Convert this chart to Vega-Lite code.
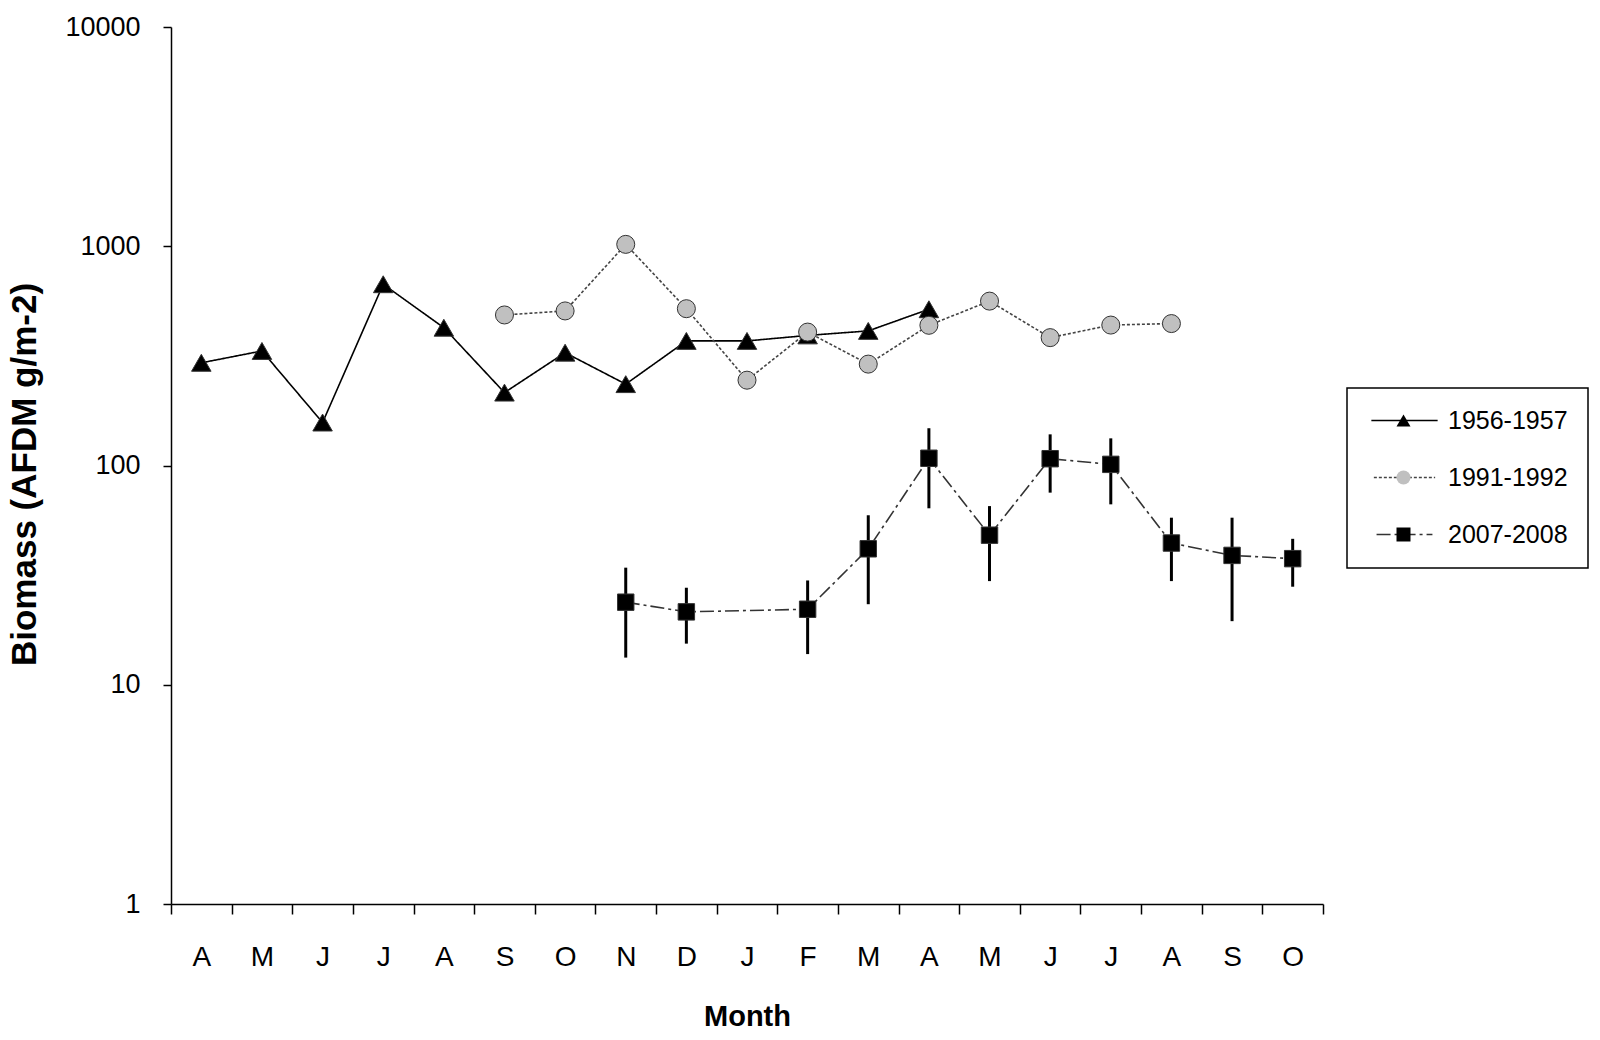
{
  "$schema": "https://vega.github.io/schema/vega-lite/v6.json",
  "autosize": {"type": "none"},
  "width": 1152,
  "height": 877,
  "padding": {"left": 171, "top": 27, "right": 277, "bottom": 136},
  "background": "white",
  "config": {
    "view": {"stroke": null},
    "font": "Liberation Sans",
    "legend": {"strokeWidth": 1.5},
    "axis": {
      "domainColor": "black", "domainWidth": 1.5, "tickColor": "black", "tickWidth": 1.5,
      "labelColor": "black", "titleColor": "black", "grid": false,
      "labelFont": "Liberation Sans", "titleFont": "Liberation Sans"
    }
  },
  "data": {
    "values": [
      {"series": "1956-1957", "idx": 0, "value": 294},
      {"series": "1956-1957", "idx": 1, "value": 333},
      {"series": "1956-1957", "idx": 2, "value": 157},
      {"series": "1956-1957", "idx": 3, "value": 671},
      {"series": "1956-1957", "idx": 4, "value": 425},
      {"series": "1956-1957", "idx": 5, "value": 215},
      {"series": "1956-1957", "idx": 6, "value": 327},
      {"series": "1956-1957", "idx": 7, "value": 235},
      {"series": "1956-1957", "idx": 8, "value": 370},
      {"series": "1956-1957", "idx": 9, "value": 370},
      {"series": "1956-1957", "idx": 10, "value": 392},
      {"series": "1956-1957", "idx": 11, "value": 411},
      {"series": "1956-1957", "idx": 12, "value": 516},
      {"series": "1991-1992", "idx": 5, "value": 486},
      {"series": "1991-1992", "idx": 6, "value": 507},
      {"series": "1991-1992", "idx": 7, "value": 1020},
      {"series": "1991-1992", "idx": 8, "value": 519},
      {"series": "1991-1992", "idx": 9, "value": 245},
      {"series": "1991-1992", "idx": 10, "value": 406},
      {"series": "1991-1992", "idx": 11, "value": 290},
      {"series": "1991-1992", "idx": 12, "value": 436},
      {"series": "1991-1992", "idx": 13, "value": 562},
      {"series": "1991-1992", "idx": 14, "value": 383},
      {"series": "1991-1992", "idx": 15, "value": 437},
      {"series": "1991-1992", "idx": 16, "value": 444},
      {"series": "2007-2008", "idx": 7, "value": 23.8, "lo": 13.3, "hi": 34.2},
      {"series": "2007-2008", "idx": 8, "value": 21.5, "lo": 15.4, "hi": 27.7},
      {"series": "2007-2008", "idx": 10, "value": 22.1, "lo": 13.8, "hi": 29.9},
      {"series": "2007-2008", "idx": 11, "value": 41.7, "lo": 23.3, "hi": 59.3},
      {"series": "2007-2008", "idx": 12, "value": 107.9, "lo": 63.8, "hi": 147.9},
      {"series": "2007-2008", "idx": 13, "value": 48.1, "lo": 29.7, "hi": 65.3},
      {"series": "2007-2008", "idx": 14, "value": 107.4, "lo": 75.2, "hi": 138.7},
      {"series": "2007-2008", "idx": 15, "value": 101.2, "lo": 66.5, "hi": 133},
      {"series": "2007-2008", "idx": 16, "value": 44.3, "lo": 29.7, "hi": 57.8},
      {"series": "2007-2008", "idx": 17, "value": 38.9, "lo": 19.5, "hi": 57.8},
      {"series": "2007-2008", "idx": 18, "value": 37.6, "lo": 28, "hi": 46.3}
    ]
  },
  "encoding": {
    "x": {
      "field": "idx", "type": "ordinal", "bandPosition": 0.5,
      "scale": {"type": "band", "domain": [0,1,2,3,4,5,6,7,8,9,10,11,12,13,14,15,16,17,18], "paddingInner": 0, "paddingOuter": 0},
      "axis": {
        "title": "Month", "titleFontSize": 29, "titleFontWeight": "bold", "titlePadding": 31,
        "labelAngle": 0, "labelFontSize": 28, "labelPadding": 29, "tickSize": 10, "tickBand": "extent",
        "labelExpr": "['A','M','J','J','A','S','O','N','D','J','F','M','A','M','J','J','A','S','O'][datum.value]"
      }
    },
    "y": {
      "field": "value", "type": "quantitative",
      "scale": {"type": "log", "domain": [1, 10000], "nice": false},
      "axis": {
        "title": "Biomass (AFDM g/m-2)", "titleFontSize": 35, "titleFontWeight": "bold", "titlePadding": 22, "titleY": 447,
        "values": [1, 10, 100, 1000, 10000], "format": "d",
        "labelFontSize": 27, "labelPadding": 23, "tickSize": 8
      }
    }
  },
  "layer": [
    {
      "mark": {"type": "line", "strokeWidth": 1.6},
      "encoding": {
        "strokeDash": {"field": "series", "type": "nominal",
          "scale": {"domain": ["2007-2008", "1991-1992", "1956-1957"], "range": [[14, 4, 3, 4], [3, 2], [1, 0]]},
          "legend": {
            "title": null, "orient": "none", "legendX": 1176, "legendY": 361,
            "values": ["1956-1957", "1991-1992", "2007-2008"],
            "padding": 20, "symbolType": "M-3.4,0H3.4", "symbolSize": 400, "symbolStrokeWidth": 1.6,
            "symbolOffset": 25, "labelOffset": 32, "rowPadding": 31,
            "labelFontSize": 25, "labelFont": "Liberation Sans", "labelExpr": "''"
          }
        },
        "stroke": {"field": "series", "type": "nominal",
          "scale": {"domain": ["2007-2008", "1991-1992", "1956-1957"], "range": ["#333333", "#444444", "#000000"]}}
      }
    },
    {
      "transform": [{"filter": "isValid(datum.lo)"}],
      "mark": {"type": "rule", "strokeWidth": 3, "color": "black"},
      "encoding": {
        "y": {"field": "lo", "type": "quantitative"},
        "y2": {"field": "hi"}
      }
    },
    {
      "mark": {"type": "point", "filled": true, "opacity": 1, "stroke": "#333333", "strokeWidth": 1},
      "encoding": {
        "shape": {"field": "series", "type": "nominal",
          "scale": {"domain": ["1956-1957", "1991-1992", "2007-2008"], "range": ["triangle-up", "circle", "square"]},
          "legend": {
            "title": null, "orient": "none", "legendX": 1176, "legendY": 361,
            "strokeColor": "black", "padding": 20,
            "symbolSize": 196, "symbolOffset": 24, "labelOffset": 32, "rowPadding": 31,
            "symbolStrokeColor": "#333333", "symbolStrokeWidth": 1,
            "labelFontSize": 25, "labelFont": "Liberation Sans", "labelColor": "black"
          }
        },
        "fill": {"field": "series", "type": "nominal",
          "scale": {"domain": ["1956-1957", "1991-1992", "2007-2008"], "range": ["#000000", "#c0c0c0", "#000000"]}},
        "size": {"field": "series", "type": "nominal", "legend": null,
          "scale": {"domain": ["2007-2008", "1991-1992", "1956-1957"], "range": [270, 380, 260]}}
      }
    }
  ]
}
